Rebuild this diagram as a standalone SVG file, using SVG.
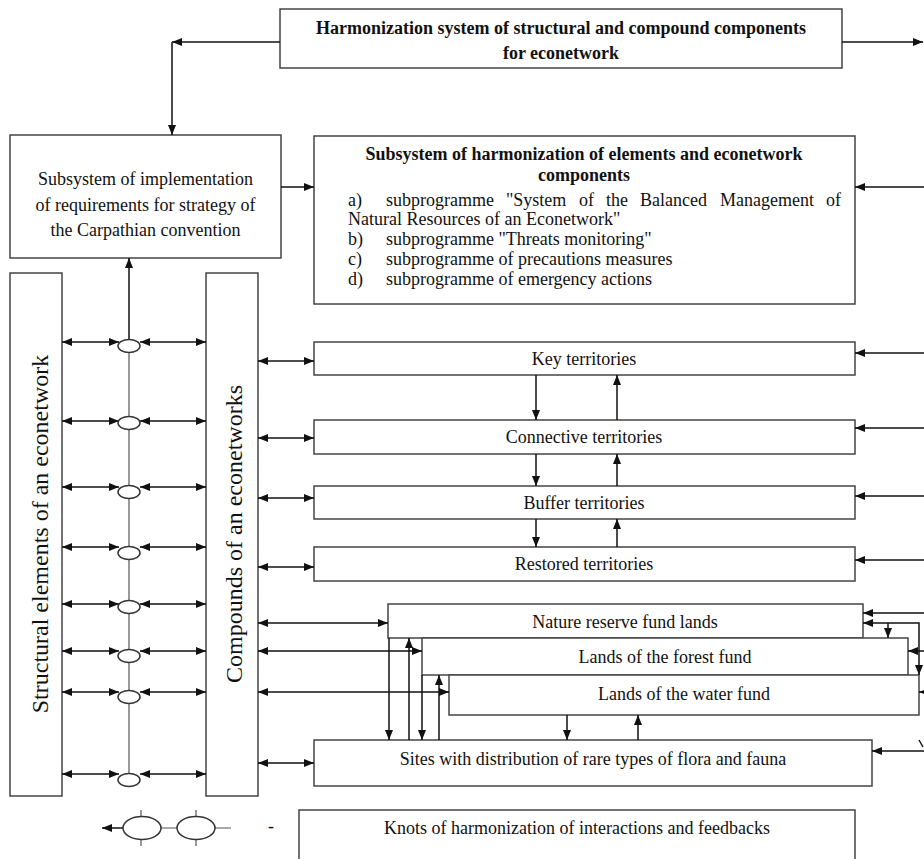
<svg xmlns="http://www.w3.org/2000/svg" width="924" height="859" viewBox="0 0 924 859">
<defs>
<marker id="ah" viewBox="0 0 10 8" refX="10" refY="4" markerWidth="10" markerHeight="8" markerUnits="userSpaceOnUse" orient="auto-start-reverse"><path d="M0,0 L10,4 L0,8 z" fill="#111"/></marker>
</defs>
<style>
.box{fill:#fff;stroke:#444;stroke-width:1.5}
.t{font-family:"Liberation Serif","Times New Roman",serif;font-size:18px;fill:#111}
.c{text-anchor:middle}
.b{font-weight:bold}
.ln{fill:none;stroke:#111;stroke-width:1.5}
.thin{fill:none;stroke:#555;stroke-width:1.2}
.a1{marker-end:url(#ah)}
.a2{marker-start:url(#ah);marker-end:url(#ah)}
.knot{fill:#fff;stroke:#333;stroke-width:1.5}
.big{font-size:24px}
</style>
<rect width="924" height="859" fill="#fff"/>

<g id="top-system">
<rect class="box" x="280" y="9" width="562" height="59"/>
<text class="t c b" x="561" y="34">Harmonization system of structural and compound components</text>
<text class="t c b" x="561" y="59">for econetwork</text>
</g>

<g id="carpathian">
<rect class="box" x="10" y="135" width="271" height="123"/>
<text class="t c" x="145.5" y="185">Subsystem of implementation</text>
<text class="t c" x="145.5" y="211">of requirements for strategy of</text>
<text class="t c" x="145.5" y="236">the Carpathian convention</text>
</g>

<g id="harmonization-subsystem">
<rect class="box" x="314" y="136" width="541" height="168"/>
<text class="t c b" x="584" y="160">Subsystem of harmonization of elements and econetwork</text>
<text class="t c b" x="584" y="181">components</text>
<text class="t" y="206"><tspan x="348">a)</tspan><tspan x="386">subprogramme</tspan><tspan x="506">"System</tspan><tspan x="579">of</tspan><tspan x="606">the</tspan><tspan x="640">Balanced</tspan><tspan x="720">Management</tspan><tspan x="826">of</tspan></text>
<text class="t" x="348" y="225">Natural Resources of an Econetwork"</text>
<text class="t" y="245"><tspan x="348">b)</tspan><tspan x="386">subprogramme "Threats monitoring"</tspan></text>
<text class="t" y="265"><tspan x="348">c)</tspan><tspan x="386">subprogramme of precautions measures</tspan></text>
<text class="t" y="285"><tspan x="348">d)</tspan><tspan x="386">subprogramme of emergency actions</tspan></text>
</g>

<g id="structural-elements">
<rect class="box" x="10" y="273" width="52" height="523"/>
<text class="t c big" transform="translate(48,534) rotate(-90)">Structural elements of an econetwork</text>
</g>

<g id="compounds">
<rect class="box" x="206" y="273" width="52" height="523"/>
<text class="t c big" transform="translate(242,534) rotate(-90)">Compounds of an econetworks</text>
</g>

<g id="key-territories">
<rect class="box" x="314" y="342" width="541" height="33"/>
<text class="t c" x="584" y="365">Key territories</text>
</g>
<g id="connective-territories">
<rect class="box" x="314" y="420" width="541" height="34"/>
<text class="t c" x="584" y="443">Connective territories</text>
</g>
<g id="buffer-territories">
<rect class="box" x="314" y="486" width="541" height="33"/>
<text class="t c" x="584" y="509">Buffer territories</text>
</g>
<g id="restored-territories">
<rect class="box" x="314" y="547" width="541" height="34"/>
<text class="t c" x="584" y="570">Restored territories</text>
</g>

<g id="nature-reserve">
<rect class="box" x="388" y="604" width="475" height="34"/>
<text class="t c" x="625" y="628">Nature reserve fund lands</text>
</g>
<g id="forest-fund">
<rect class="box" x="422" y="638" width="486" height="37"/>
<text class="t c" x="665" y="663">Lands of the forest fund</text>
</g>
<g id="water-fund">
<rect class="box" x="449" y="675" width="470" height="40"/>
<text class="t c" x="684" y="700">Lands of the water fund</text>
</g>
<g id="rare-sites">
<rect class="box" x="314" y="740" width="558" height="46"/>
<text class="t c" x="593" y="765">Sites with distribution of rare types of flora and fauna</text>
</g>

<g id="knots-legend-box">
<rect class="box" x="299" y="810" width="556" height="60"/>
<text class="t c" x="577" y="834">Knots of harmonization of interactions and feedbacks</text>
</g>

<g id="connectors">
<path class="ln a1" d="M280,42 H172"/>
<path class="ln a1" d="M172,42 V135"/>
<path class="ln a1" d="M842,42 H923"/>
<path class="ln a1" d="M281,187 H314"/>
<path class="ln a1" d="M924,187 H855"/>
<path class="ln a1" d="M129,339 V258"/>
<path class="thin" d="M129,352 V774"/>

<path class="ln a2" d="M62,342 H119"/><path class="ln a2" d="M140,342 H206"/>
<path class="ln a2" d="M62,421 H119"/><path class="ln a2" d="M140,421 H206"/>
<path class="ln a2" d="M62,487 H119"/><path class="ln a2" d="M140,487 H206"/>
<path class="ln a2" d="M62,547 H119"/><path class="ln a2" d="M140,547 H206"/>
<path class="ln a2" d="M62,604 H119"/><path class="ln a2" d="M140,604 H206"/>
<path class="ln a2" d="M62,651 H119"/><path class="ln a2" d="M140,651 H206"/>
<path class="ln a2" d="M62,692 H119"/><path class="ln a2" d="M140,692 H206"/>
<path class="ln a2" d="M62,774 H119"/><path class="ln a2" d="M140,774 H206"/>

<path class="ln a2" d="M258,361 H314"/>
<path class="ln a2" d="M258,438 H314"/>
<path class="ln a2" d="M258,498 H314"/>
<path class="ln a2" d="M258,567 H314"/>
<path class="ln a2" d="M258,623 H388"/>
<path class="ln a2" d="M258,651 H422"/>
<path class="ln a2" d="M258,692 H449"/>
<path class="ln a2" d="M258,763 H314"/>

<path class="ln a1" d="M536,375 V420"/><path class="ln a1" d="M617,420 V375"/>
<path class="ln a1" d="M536,454 V486"/><path class="ln a1" d="M617,486 V454"/>
<path class="ln a1" d="M536,519 V547"/><path class="ln a1" d="M617,547 V519"/>

<path class="ln a1" d="M924,353 H855"/>
<path class="ln a1" d="M924,428 H855"/>
<path class="ln a1" d="M924,496 H855"/>
<path class="ln a1" d="M924,560 H855"/>

<path class="ln a1" d="M924,613 H863"/>
<path class="ln a2" d="M919,675 V623 H863"/>
<path class="ln a1" d="M888,623 V638"/>
<path class="ln a1" d="M924,651 H908"/>
<path class="ln a1" d="M924,692 H919"/>
<path class="ln a1" d="M924,751 H872"/>
<path class="ln" d="M919,740 L923,747"/>

<path class="ln a1" d="M389,638 V740"/>
<path class="ln a1" d="M409,740 V638"/>
<path class="ln a1" d="M422,675 V740"/>
<path class="ln a1" d="M439,740 V675"/>
<path class="ln a1" d="M567,715 V740"/>
<path class="ln a1" d="M638,740 V715"/>
</g>

<g id="knots">
<ellipse class="knot" cx="129" cy="346" rx="11" ry="6.5"/>
<ellipse class="knot" cx="129" cy="423" rx="11" ry="6.5"/>
<ellipse class="knot" cx="129" cy="492" rx="11" ry="6.5"/>
<ellipse class="knot" cx="129" cy="553" rx="11" ry="6.5"/>
<ellipse class="knot" cx="129" cy="607" rx="11" ry="6.5"/>
<ellipse class="knot" cx="129" cy="656" rx="11" ry="6.5"/>
<ellipse class="knot" cx="129" cy="697" rx="11" ry="6.5"/>
<ellipse class="knot" cx="129" cy="780" rx="11" ry="6.5"/>
</g>

<g id="legend">
<path class="ln a1" d="M123,828 H102"/>
<path class="thin" d="M161,828 H177 M215,828 H231 M141,810 V817 M141,839.5 V846 M196,810 V817 M196,839.5 V846"/>
<ellipse class="knot" cx="142" cy="828" rx="19" ry="11.5"/>
<ellipse class="knot" cx="196" cy="828" rx="19" ry="11.5"/>
<text class="t" x="268" y="832">-</text>
</g>
</svg>
